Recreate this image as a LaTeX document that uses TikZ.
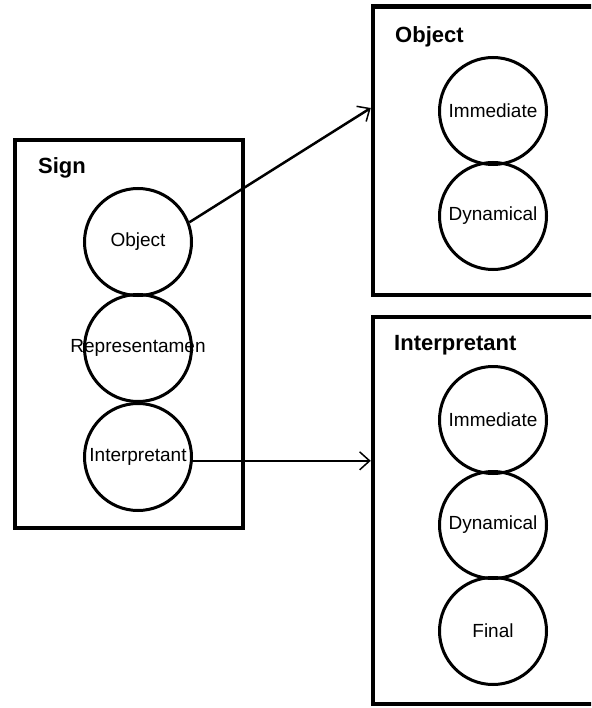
\documentclass[tikz,border=0pt]{standalone}
\usepackage{fontspec}
\setmainfont{Liberation Sans}
\usetikzlibrary{arrows.meta}
\begin{document}
\begin{tikzpicture}[x=1pt,y=-1pt,
  frame/.style={draw, line width=4.5pt, inner sep=0pt},
  part/.style={draw, circle, line width=3pt, inner sep=0pt, minimum size=107pt,
    font=\fontsize{19}{22}\selectfont},
  heading/.style={anchor=west, inner sep=0pt, font=\fontsize{22}{26}\selectfont\bfseries},
  link/.style={line width=2.5pt, -{Straight Barb[length=10pt,width=18pt,line width=1.5pt]}}]
\useasboundingbox (0,0) rectangle (591,708);
\clip (0,0) rectangle (591,708);

% Sign with its three correlates (labels may run past the circle)
\node[frame, minimum width=228pt, minimum height=388pt] (sign) at (129,334) {};
\node[heading] (signlbl) at (38,168) {Sign};
\node[part] (sO) at (138,242) {\makebox[0pt]{Object}};
\node[part] (sR) at (138,348) {\makebox[0pt]{Representamen}};
\node[part] (sI) at (138,457) {\makebox[0pt]{Interpretant}};

% Object and its two kinds
\node[frame, minimum width=225pt, minimum height=288.5pt] (obox) at (485.5,150.75) {};
\node[heading] (objlbl) at (395,37) {Object};
\node[part] (oImm) at (493,111) {\makebox[0pt]{Immediate}};
\node[part] (oDyn) at (493,216) {\makebox[0pt]{Dynamical}};

% Interpretant and its three kinds
\node[frame, minimum width=225pt, minimum height=387pt] (ibox) at (485.5,510.5) {};
\node[heading] (intlbl) at (394,345) {Interpretant};
\node[part] (iImm) at (493,420) {\makebox[0pt]{Immediate}};
\node[part] (iDyn) at (493,525) {\makebox[0pt]{Dynamical}};
\node[part] (iFin) at (493,631) {\makebox[0pt]{Final}};

% connectors
\draw[link] (sO.21) -- ([yshift=42.75pt]obox.west);
\draw[link] (sI.-4.3) -- (sI.-4.3 -| ibox.west);
\end{tikzpicture}
\end{document}
